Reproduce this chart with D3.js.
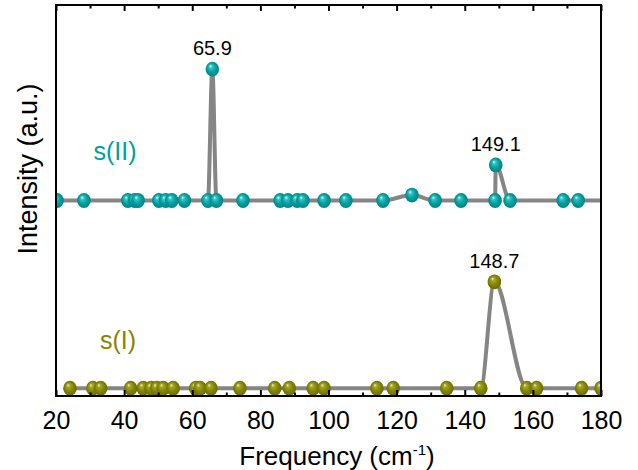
<!DOCTYPE html>
<html><head><meta charset="utf-8">
<script src="https://cdn.jsdelivr.net/npm/d3@7"></script>
<style>body{margin:0;background:#fff}svg{display:block}text{font-family:"Liberation Sans",Arial,sans-serif}</style>
</head><body><svg id="c" width="638" height="470"></svg>
<script>
// s(II) series (top)
const sIIx = [20.3, 28.2, 41.1, 43.1, 44.1, 50.2, 52.2, 54.0, 57.7, 64.6, 65.9, 67.1, 74.9, 85.8, 88.1, 90.8, 92.5, 98.7, 105.1, 116.0, 124.5, 131.3, 138.9, 148.9, 149.1, 153.3, 168.9, 173.3, 183];
const sIIy = [50, 50, 50, 50, 50, 50, 50, 50, 50, 50, 83.6, 50, 50, 50, 50, 50, 50, 50, 50, 50, 51.4, 50, 50, 50, 59.1, 50, 50, 50, 50];
// s(I) series (bottom)
const sIx = [24.1, 30.8, 33.1, 41.9, 45.6, 47.9, 49.6, 51.5, 54.4, 61.0, 62.3, 65.5, 74.0, 84.2, 88.5, 95.5, 98.7, 114.2, 119.0, 134.7, 144.7, 148.7, 158.2, 161.1, 174.3, 180];
const sIy = [2, 2, 2, 2, 2, 2, 2, 2, 2, 2, 2, 2, 2, 2, 2, 2, 2, 2, 2, 2, 2, 29.2, 2, 2, 2, 2];
const xTicks = [20, 40, 60, 80, 100, 120, 140, 160, 180];
const xMinor = [30, 50, 70, 90, 110, 130, 150, 170];
const peakLabels = [
  {series: "II", x: 65.9, y: 83.6, text: "65.9"},
  {series: "II", x: 149.1, y: 59.1, text: "149.1"},
  {series: "I", x: 148.7, y: 29.2, text: "148.7"}
];
const seriesNames = ["s(II)", "s(I)"];

const svg = d3.select("#c");
const L = 56, R = 601, T = 5, B = 396;
const x = d3.scaleLinear().domain([20, 180]).range([L, R]);
const y = d3.scaleLinear().domain([0, 100]).range([B, T]);

const defs = svg.append("defs");
defs.append("clipPath").attr("id", "clip").append("rect")
  .attr("x", L).attr("y", T).attr("width", R - L).attr("height", B - T);
function grad(id, c0, c1, c2, c3) {
  const g = defs.append("radialGradient").attr("id", id)
    .attr("cx", "0.5").attr("cy", "0.5").attr("r", "0.55").attr("fx", "0.35").attr("fy", "0.28");
  g.append("stop").attr("offset", "0").attr("stop-color", c0);
  g.append("stop").attr("offset", "0.22").attr("stop-color", c1);
  g.append("stop").attr("offset", "0.6").attr("stop-color", c2);
  g.append("stop").attr("offset", "1").attr("stop-color", c3);
}
grad("gII", "#e8ffff", "#33c4c4", "#009c9c", "#008080");
grad("gI", "#f4f4c8", "#a4a42c", "#828200", "#686800");

const line = d3.line().x(d => x(d[0])).y(d => y(d[1])).curve(d3.curveMonotoneX);
const plot = svg.append("g").attr("clip-path", "url(#clip)");

function drawSeries(xs, ys, gid) {
  const pts = xs.map((v, i) => [v, ys[i]]);
  plot.append("path").datum(pts).attr("d", line)
    .attr("fill", "none").attr("stroke", "#858585").attr("stroke-width", 4)
    .attr("stroke-linejoin", "round");
  plot.selectAll(null).data(pts.filter(p => p[0] <= 180.5)).enter().append("ellipse")
    .attr("cx", d => x(d[0])).attr("cy", d => y(d[1]))
    .attr("rx", 6.8).attr("ry", 7.4).attr("fill", `url(#${gid})`);
}
drawSeries(sIIx, sIIy, "gII");
drawSeries(sIx, sIy, "gI");

// peak labels
svg.selectAll(".pk").data(peakLabels).enter().append("text")
  .attr("x", d => x(d.x)).attr("y", d => y(d.y) - 14)
  .attr("text-anchor", "middle").attr("font-size", 20).attr("fill", "#000")
  .text(d => d.text);

// series labels
svg.append("text").attr("x", 115).attr("y", 160).attr("text-anchor", "middle")
  .attr("font-size", 25).attr("fill", "#00a0a0").text(seriesNames[0]);
svg.append("text").attr("x", 118).attr("y", 349).attr("text-anchor", "middle")
  .attr("font-size", 25).attr("fill", "#858500").text(seriesNames[1]);

// axes
const gBottom = svg.append("g").attr("transform", `translate(0,${B})`);
gBottom.call(d3.axisBottom(x).tickValues(xTicks).tickSize(-6).tickPadding(12).tickFormat(d3.format("d")));
const gBottomMinor = svg.append("g").attr("transform", `translate(0,${B})`);
gBottomMinor.call(d3.axisBottom(x).tickValues(xMinor).tickSize(-3.5).tickFormat(""));
const gTop = svg.append("g").attr("transform", `translate(0,${T})`);
gTop.call(d3.axisTop(x).tickValues(xTicks).tickSize(-6).tickFormat(""));
const gTopMinor = svg.append("g").attr("transform", `translate(0,${T})`);
gTopMinor.call(d3.axisTop(x).tickValues(xMinor).tickSize(-3.5).tickFormat(""));
svg.selectAll(".domain").remove();
svg.selectAll(".tick line").attr("stroke", "#000").attr("stroke-width", 2);
gBottom.selectAll(".tick text").attr("font-size", 25).attr("fill", "#000")
  .attr("font-family", "'Liberation Sans', Arial, sans-serif")
  .attr("dy", null).attr("y", 33);

svg.append("rect").attr("x", L).attr("y", T).attr("width", R - L).attr("height", B - T)
  .attr("fill", "none").attr("stroke", "#000").attr("stroke-width", 2);

// axis titles
const xt = svg.append("text").attr("x", 337).attr("y", 465).attr("text-anchor", "middle")
  .attr("font-size", 26).attr("fill", "#000");
xt.append("tspan").text("Frequency (cm");
xt.append("tspan").attr("dy", -10).attr("font-size", 15).text("-1");
xt.append("tspan").attr("dy", 10).text(")");

svg.append("text").attr("transform", "translate(37,169) rotate(-90)")
  .attr("text-anchor", "middle").attr("font-size", 27).attr("fill", "#000")
  .text("Intensity (a.u.)");
</script></body></html>
